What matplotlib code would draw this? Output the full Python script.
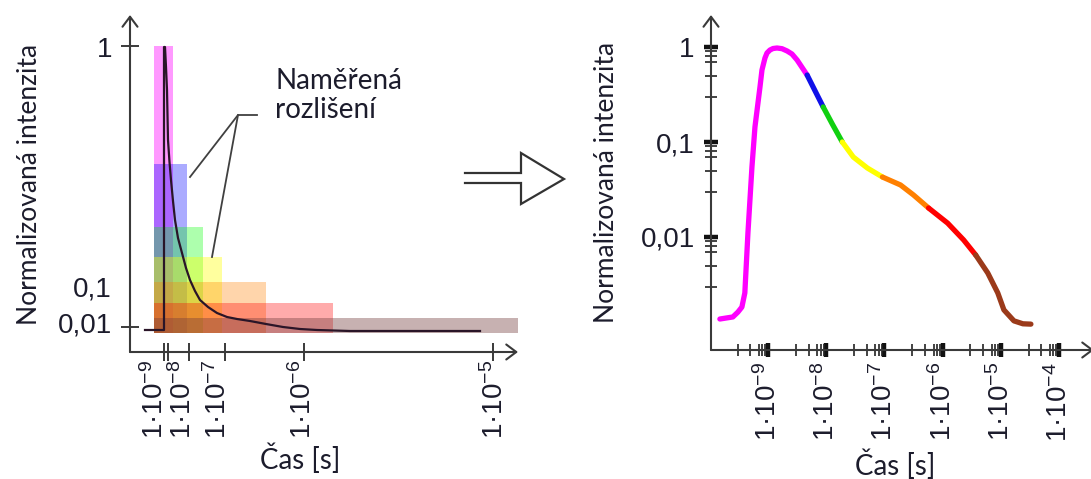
import matplotlib
matplotlib.use("Agg")
import matplotlib.pyplot as plt
from matplotlib.lines import Line2D
from matplotlib.patches import Rectangle
from matplotlib.ticker import FixedLocator, NullFormatter
import numpy as np

plt.rcParams["mathtext.fontset"] = "custom"
plt.rcParams["mathtext.rm"] = "Liberation Sans"
plt.rcParams["mathtext.it"] = "Liberation Sans:italic"

# ---------------- left panel: schematic decay seen through time windows ----------------
# positions along the schematic axes (arbitrary units, axis origin at 0)
win_colors = ["#ff00ff", "#0000ff", "#00ff00", "#ffff00", "#ff8000", "#ff0000", "#743d3d"]
win_alpha = [0.40, 0.33, 0.32, 0.38, 0.33, 0.33, 0.40]
win_left = 24
win_bottom = 19
win_right = [43, 57, 73, 92, 136, 203, 388]
win_top = [306, 188, 125, 95, 70, 49, 34]

decay_x = [15, 34, 34, 35, 36, 37, 38, 39.5, 41, 43, 45, 48, 52, 56, 60, 65, 70, 78, 87,
           97, 107, 120, 136, 153, 170, 187, 220, 350]
decay_y = [22, 22, 305, 305, 285, 262, 212, 190, 172, 151, 132, 114, 99, 84, 72, 61, 52,
           45, 39, 35, 33, 31, 28, 25, 23, 22, 21, 21]

left_ytick_marks = [306, 65, 25, 29]
left_ytick_pos = [305, 65, 29]
left_ytick_labels = ["1", "0,1", "0,01"]
left_xtick_marks = [34, 38, 59, 95, 174, 363]
left_xtick_pos = [25, 53, 88, 173, 365]
left_xtick_labels = ["1·10$^{-9}$", "1·10$^{-8}$", "1·10$^{-7}$", "1·10$^{-6}$", "1·10$^{-5}$"]

# ---------------- right panel: reconstructed decay on log-log axes ----------------
t_s = [1.49e-10, 2.49e-10, 3.04e-10, 3.56e-10, 4.0e-10, 4.52e-10, 5.3e-10, 5.97e-10,
       7.28e-10, 7.88e-10, 8.87e-10, 9.61e-10, 1.08e-9, 1.22e-9, 1.43e-9, 1.74e-9,
       2.13e-9, 2.58e-9, 3.16e-9, 4.7e-9, 6.46e-9,
       8.87e-9, 1.27e-8, 1.89e-8, 2.92e-8, 5.1e-8, 9.25e-8, 1.89e-7, 3.16e-7,
       5.74e-7, 1.22e-6, 2.3e-6, 3.7e-6, 5.97e-6, 8.87e-6, 1.13e-5, 1.68e-5, 2.4e-5, 3.29e-5]
intensity = [1.37e-3, 1.44e-3, 1.62e-3, 1.83e-3, 2.58e-3, 0.0110, 0.0546, 0.144,
             0.379, 0.573, 0.766, 0.865, 0.929, 0.964, 0.976, 0.960,
             0.908, 0.844, 0.730, 0.507, 0.344,
             0.234, 0.155, 0.100, 0.0695, 0.0532, 0.0428, 0.0353, 0.0277,
             0.0202, 0.0140, 0.0093, 0.00647, 0.00418, 0.00258, 0.00171, 0.00131,
             0.00122, 0.00121]
band_colors = ["#ff00ff", "#1010e8", "#10d010", "#ffff00", "#ff8000", "#ff0000", "#9b3a1a"]
band_edges = [1.49e-10, 4.7e-9, 8.87e-9, 1.89e-8, 9.25e-8, 5.74e-7, 3.7e-6, 3.29e-5]

right_xticks = [1e-9, 1e-8, 1e-7, 1e-6, 1e-5, 1e-4]
right_xtick_labels = ["1·10$^{-9}$", "1·10$^{-8}$", "1·10$^{-7}$", "1·10$^{-6}$",
                      "1·10$^{-5}$", "1·10$^{-4}$"]
right_yticks = [1e-2, 1e-1, 1]
right_ytick_labels = ["0,01", "0,1", "1"]
minor_subs = [3, 5, 7, 8, 9]

W, H = 1091, 479
fig = plt.figure(figsize=(W / 100, H / 100), dpi=100)
fig.patch.set_facecolor("white")

AX_COLOR = "#3a3a3a"
TXT_COLOR = "#1c1c2c"
TICK_FONT = "Liberation Sans"
LABEL_FONT = "Lato"


def px_box(x0, y0, x1, y1):
    return [x0 / W, 1 - y1 / H, (x1 - x0) / W, (y1 - y0) / H]


def axis_arrows(ax):
    for s in ax.spines.values():
        s.set_visible(False)
    style = "->,head_length=0.36,head_width=0.27"
    for end in [(0, 1), (1, 0)]:
        ax.annotate("", xy=end, xytext=(0, 0), xycoords="axes fraction",
                    textcoords="axes fraction", annotation_clip=False,
                    arrowprops=dict(arrowstyle=style, lw=1.5, color=AX_COLOR,
                                    shrinkA=0, shrinkB=0, mutation_scale=20))


# ---- left axes ----
axL = fig.add_axes(px_box(130, 15, 518, 352))
axL.set_xlim(0, 388)
axL.set_ylim(0, 337)
axis_arrows(axL)

for c, a, r, t in zip(win_colors, win_alpha, win_right, win_top):
    axL.add_patch(Rectangle((win_left, win_bottom), r - win_left, t - win_bottom,
                            facecolor=c, alpha=a, edgecolor="none"))
axL.plot(decay_x, decay_y, color="#2a1528", lw=1.6, solid_joinstyle="round", zorder=3)

axL.set_yticks(left_ytick_pos)
axL.set_yticklabels(left_ytick_labels, fontfamily=TICK_FONT, fontsize=20, color=TXT_COLOR)
axL.set_yticks(left_ytick_marks, minor=True)
axL.set_xticks(left_xtick_pos)
axL.set_xticklabels(left_xtick_labels, rotation=90, fontfamily=TICK_FONT, fontsize=20,
                    color=TXT_COLOR)
axL.set_xticks(left_xtick_marks, minor=True)
axL.tick_params(which="major", length=0)
axL.tick_params(axis="y", which="major", pad=13)
axL.tick_params(axis="x", which="major", pad=5.5)
axL.tick_params(which="minor", direction="inout", length=13, width=1.4, color=AX_COLOR)

# leader lines of the annotation
axL.plot([127, 108, 60], [237, 237, 175], color="#404040", lw=1.3)
axL.plot([108, 82], [237, 95], color="#404040", lw=1.3)
axL.text(145, 284, "Naměřená\nrozlišení", fontfamily=LABEL_FONT, fontsize=20,
         color=TXT_COLOR, va="top", ha="left", linespacing=1.15)

# ---- right axes ----
axR = fig.add_axes(px_box(711, 15, 1094, 350))
axR.set_xscale("log")
axR.set_yscale("log")
axR.set_xlim(10 ** (-9 + (711 - 768) / 58.2), 10 ** (-9 + (1094 - 768) / 58.2))
axR.set_ylim(10 ** (-(350 - 47) / 95), 10 ** ((47 - 15) / 95))
axis_arrows(axR)

t_arr = np.array(t_s)
i_arr = np.array(intensity)
for k, col in enumerate(band_colors):
    m = (t_arr >= band_edges[k] * 0.999) & (t_arr <= band_edges[k + 1] * 1.001)
    axR.plot(t_arr[m], i_arr[m], color=col, lw=3.8, solid_capstyle="round",
             solid_joinstyle="round", zorder=3 + k * 0.01)

axR.set_xticks(right_xticks)
axR.set_xticklabels(right_xtick_labels, rotation=90, fontfamily=TICK_FONT, fontsize=20,
                    color=TXT_COLOR)
axR.xaxis.set_minor_locator(FixedLocator(
    [s * 10.0 ** e for e in range(-10, -4) for s in minor_subs]))
axR.xaxis.set_minor_formatter(NullFormatter())
axR.set_yticks(right_yticks)
axR.set_yticklabels(right_ytick_labels, fontfamily=TICK_FONT, fontsize=20, color=TXT_COLOR)
axR.yaxis.set_minor_locator(FixedLocator(
    [s * 10.0 ** e for e in (-3, -2, -1) for s in minor_subs]))
axR.yaxis.set_minor_formatter(NullFormatter())
axR.tick_params(which="major", direction="inout", length=9.5, width=3.2, color="#111111")
axR.tick_params(which="minor", direction="inout", length=9, width=1.2, color="#222222")
axR.tick_params(axis="x", which="major", pad=4)
axR.tick_params(axis="y", which="major", pad=7)

# ---- axis titles ----
for x, y in [(30, 184), (607, 182)]:
    fig.text(x / W, 1 - y / H, "Normalizovaná intenzita", rotation=90, ha="center",
             va="center", fontfamily=LABEL_FONT, fontsize=19, color=TXT_COLOR)
for x, y in [(300, 459), (895, 465)]:
    fig.text(x / W, 1 - y / H, "Čas [s]", ha="center", va="center",
             fontfamily=LABEL_FONT, fontsize=20, color=TXT_COLOR)

# ---- hollow arrow between the panels ----
ax_pts = [(465, 173), (521, 173), (521, 153), (564, 179), (521, 204), (521, 183), (465, 183)]
fig.add_artist(Line2D([p[0] / W for p in ax_pts], [1 - p[1] / H for p in ax_pts],
                      transform=fig.transFigure, color="#333333", lw=1.6,
                      solid_joinstyle="miter"))

fig.savefig("out.png", dpi=100, facecolor="white")
